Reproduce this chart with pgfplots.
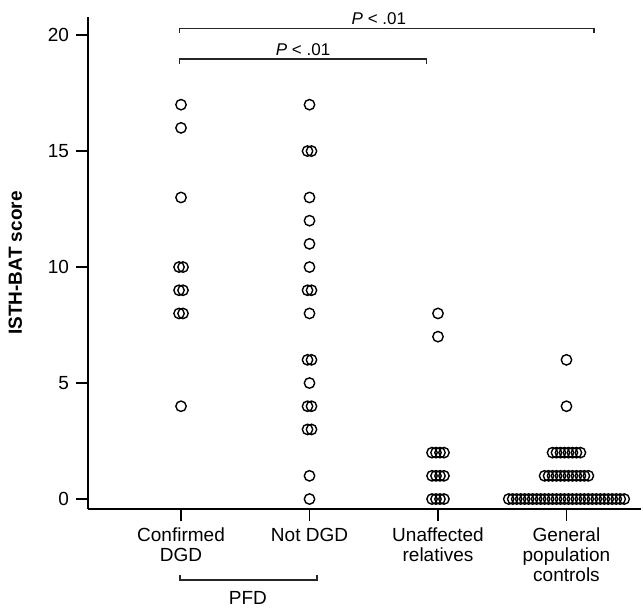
\documentclass[border=0pt]{standalone}
\usepackage{fontspec}
\setmainfont{Liberation Sans}
\usepackage{pgfplots}
\pgfplotsset{compat=1.18}

\begin{document}
\begin{tikzpicture}
\begin{axis}[
  scale only axis,
  width=276.5pt, height=246pt,
  xmin=0.276, xmax=4.58, ymin=-0.43, ymax=20.78,
  axis x line=bottom, axis y line=left,
  axis line style={-, line width=0.6pt},
  tick align=outside, major tick length=6pt,
  tick style={line width=0.6pt, black},
  xtick={1,2,3,4},
  xticklabels={Confirmed\\DGD, Not DGD, Unaffected\\relatives, General\\population\\controls},
  xticklabel style={align=center, font=\fontsize{9.5}{10}\selectfont},
  ytick={0,5,10,15,20},
  yticklabel style={font=\fontsize{9.5}{11}\selectfont},
  /pgf/number format/assume math mode=true,
  ylabel={\bfseries ISTH-BAT score},
  ylabel style={font=\fontsize{9.5}{11}\selectfont},
  ylabel shift=6pt,
  clip=false,
]
% confirmed DGD
\addplot[only marks, mark=o, mark size=2.6pt, line width=0.7pt] coordinates {
  (1,17) (1,16) (1,13) (0.9845,10) (1.0155,10) (0.9845,9) (1.0155,9)
  (0.9845,8) (1.0155,8) (1,4)};
% not DGD
\addplot[only marks, mark=o, mark size=2.6pt, line width=0.7pt] coordinates {
  (2,17) (1.9845,15) (2.0155,15) (2,13) (2,12) (2,11) (2,10)
  (1.9845,9) (2.0155,9) (2,8) (1.9845,6) (2.0155,6) (2,5)
  (1.9845,4) (2.0155,4) (1.9845,3) (2.0155,3) (2,1) (2,0)};
% unaffected relatives
\addplot[only marks, mark=o, mark size=2.6pt, line width=0.7pt] coordinates {
  (3,8) (3,7)
  (2.9535,2) (2.9845,2) (3.0155,2) (3.0465,2)
  (2.9535,1) (2.9845,1) (3.0155,1) (3.0465,1)
  (2.9535,0) (2.9845,0) (3.0155,0) (3.0465,0)};
% general population controls
\addplot[only marks, mark=o, mark size=2.6pt, line width=0.7pt] coordinates {
  (4,6) (4,4)
  (3.8915,2) (3.9225,2) (3.9535,2) (3.9845,2) (4.0155,2) (4.0465,2) (4.0775,2) (4.1085,2)
  (3.8295,1) (3.8605,1) (3.8915,1) (3.9225,1) (3.9535,1) (3.9845,1)
  (4.0155,1) (4.0465,1) (4.0775,1) (4.1085,1) (4.1395,1) (4.1705,1)
  (3.5505,0) (3.5815,0) (3.6125,0) (3.6435,0) (3.6745,0) (3.7055,0) (3.7365,0) (3.7675,0)
  (3.7985,0) (3.8295,0) (3.8605,0) (3.8915,0) (3.9225,0) (3.9535,0) (3.9845,0)
  (4.0155,0) (4.0465,0) (4.0775,0) (4.1085,0) (4.1395,0) (4.1705,0) (4.2015,0) (4.2325,0)
  (4.2635,0) (4.2945,0) (4.3255,0) (4.3565,0) (4.3875,0) (4.4185,0) (4.4495,0)};
% significance brackets
\draw[line width=0.55pt, black!85] (axis cs:0.985,20.08) -- (axis cs:0.985,20.3)
  -- (axis cs:4.214,20.3) -- (axis cs:4.214,20.08);
\node[anchor=south, inner sep=1.5pt, font=\fontsize{8.5}{9}\selectfont]
  at (axis cs:2.54,20.3) {\textit{P} < .01};
\draw[line width=0.55pt, black!85] (axis cs:0.985,18.75) -- (axis cs:0.985,18.97)
  -- (axis cs:2.914,18.97) -- (axis cs:2.914,18.75);
\node[anchor=south, inner sep=1.5pt, font=\fontsize{8.5}{9}\selectfont]
  at (axis cs:1.95,18.97) {\textit{P} < .01};
% PFD group bracket
\draw[line width=0.55pt, black!85] (axis cs:0.992,-3.28) -- (axis cs:0.992,-3.49)
  -- (axis cs:2.058,-3.49) -- (axis cs:2.058,-3.28);
\node[font=\fontsize{9.5}{11}\selectfont] at (axis cs:1.52,-4.27) {PFD};
\end{axis}
\pgfresetboundingbox
\path ([shift={(-44pt,-51pt)}]current axis.south west)
  rectangle ([shift={(1pt,8.5pt)}]current axis.north east);
\end{tikzpicture}
\end{document}
